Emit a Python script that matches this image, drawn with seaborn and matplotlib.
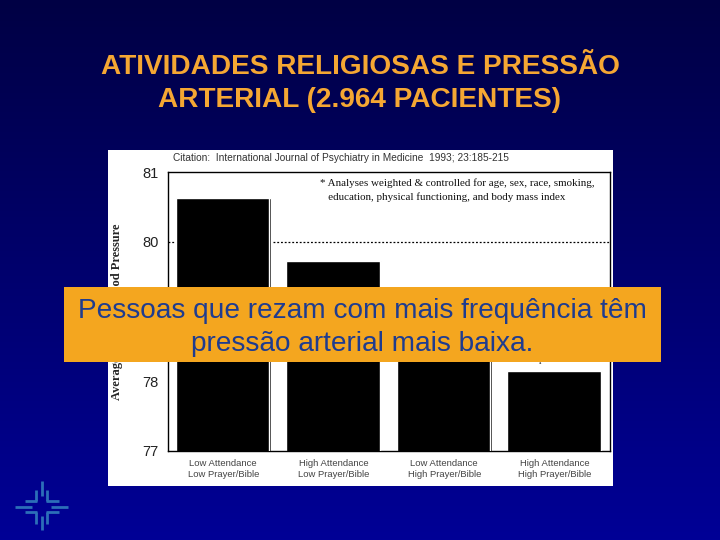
import numpy as np
import pandas as pd
import matplotlib
matplotlib.use("Agg")
import matplotlib.pyplot as plt
from matplotlib.lines import Line2D
from matplotlib.patches import Rectangle
import seaborn as sns

categories = ["Low Attendance\nLow Prayer/Bible", "High Attendance\nLow Prayer/Bible",
              "Low Attendance\nHigh Prayer/Bible", "High Attendance\nHigh Prayer/Bible"]
pressure = [80.63, 79.72, 79.00, 78.14]
yticks = [77, 78, 79, 80, 81]
ytick_labels = ["77", "78", "", "80", "81"]

title = "ATIVIDADES RELIGIOSAS E PRESSÃO\nARTERIAL (2.964 PACIENTES)"
banner = "Pessoas que rezam com mais frequência têm\npressão arterial mais baixa."
citation = "Citation:  International Journal of Psychiatry in Medicine  1993; 23:185-215"
note = "* Analyses weighted & controlled for age, sex, race, smoking,\n   education, physical functioning, and body mass index"
ylabel = "Average Diastolic Blood Pressure"

sns.set_theme(style="white")
plt.rcParams["font.family"] = ["Liberation Sans", "DejaVu Sans"]
W, H = 720, 540
fig = plt.figure(figsize=(W / 100, H / 100), dpi=100)

def fx(x): return x / W
def fy(y): return 1 - y / H
def box(x0, y0, x1, y1): return [fx(x0), fy(y1), (x1 - x0) / W, (y1 - y0) / H]

# background gradient
bg = fig.add_axes([0, 0, 1, 1], zorder=0)
bg.axis("off")
t = np.linspace(0, 1, 256)[:, None]
grad = np.dstack([0 * t, 0 * t, (68 + (150 - 68) * t) / 255])
bg.imshow(grad, aspect="auto", extent=[0, 1, 0, 1])
bg.set_xlim(0, 1); bg.set_ylim(0, 1)

fig.add_artist(Rectangle((fx(108), fy(486)), 505 / W, 336 / H, transform=fig.transFigure,
                         facecolor="white", edgecolor="none", zorder=1))

ax = fig.add_axes(box(168, 172, 610, 451), zorder=2)
df = pd.DataFrame({"group": categories, "pressure": pressure})
ax.axhline(80, color="black", lw=0.9, ls=(0, (1.5, 1.5)), zorder=0)
sns.barplot(data=df, x="group", y="pressure", color="black", saturation=1, width=0.86, ax=ax, zorder=2)
ax.set_yticks(yticks, ytick_labels)
ax.set_xlabel("")
ax.set_ylabel("")
ax.tick_params(axis="y", length=0, pad=7, labelsize=10.5, labelcolor="#222222")
ax.tick_params(axis="x", length=0, pad=6, labelsize=6.8, labelcolor="#444444")
for s in ax.spines.values():
    s.set_visible(True); s.set_color("black"); s.set_linewidth(1.0)
for p in ax.patches:
    xr = p.get_x() + p.get_width()
    ax.plot([xr - 0.014, xr - 0.014], [77, p.get_height()], color="white", lw=1.0, zorder=3)
ax.set_xlim(-0.5, 3.5)
ax.set_ylim(77, 81)
ax.text(3.0, 78.25, "p<.0001", fontsize=7, family="Liberation Serif", ha="center", va="bottom", zorder=4)

fig.text(fx(173), fy(157.5), citation, fontsize=7.3, color="#333333", va="center", zorder=3)
fig.text(fx(320), fy(190), note, fontsize=7.9, family="Liberation Serif", color="#111111",
         va="center", linespacing=1.5, zorder=3)
fig.text(fx(117), fy(312), ylabel, fontsize=9, family="Liberation Serif", weight="bold",
         rotation=90, va="center", ha="center", zorder=3)

fig.text(0.5, fy(83.5), title, fontsize=20.2, weight="bold", color="#F5A733", ha="center",
         va="center", linespacing=1.39, zorder=3)

fig.add_artist(Rectangle((fx(64), fy(362)), 597 / W, 75 / H, transform=fig.transFigure,
                         facecolor="#F4A61F", edgecolor="none", zorder=5))
fig.text(fx(362), fy(327.5), banner, fontsize=20.2, color="#1F3C8F", ha="center", va="center",
         linespacing=1.32, zorder=6)

# logo
logo = "#2C6FB8"
segs = [((41.5, 481), (41.5, 496)), ((41.5, 516), (41.5, 530)), ((15, 506.5), (32, 506.5)), ((51, 506.5), (68, 506.5)),
        ((36, 490), (36, 501)), ((47, 490), (47, 501)), ((36, 512), (36, 524)), ((47, 512), (47, 524)),
        ((25, 501), (37, 501)), ((46, 501), (59, 501)), ((25, 512), (37, 512)), ((46, 512), (59, 512))]
for (x0, y0), (x1, y1) in segs:
    fig.add_artist(Line2D([fx(x0), fx(x1)], [fy(y0), fy(y1)], transform=fig.transFigure,
                          color=logo, lw=2.0, solid_capstyle="butt", zorder=3))

fig.savefig("out.png", dpi=100)
